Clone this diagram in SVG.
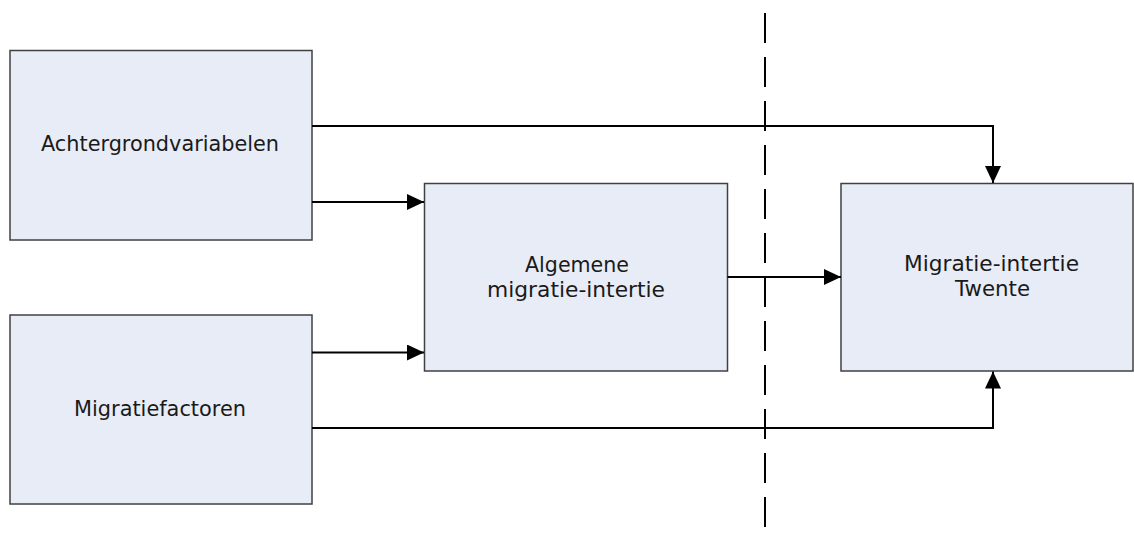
<svg xmlns="http://www.w3.org/2000/svg" width="1134" height="534" viewBox="0 0 1134 534">
<defs>
<style>
.box{fill:#E8ECF7;stroke:#404040;stroke-width:1.5}
.lbl{font-family:"DejaVu Sans","Verdana",sans-serif;font-size:21px;fill:#1a1a1a;text-anchor:middle}
.con{fill:none;stroke:#000;stroke-width:2}
.dash{fill:none;stroke:#000;stroke-width:2;stroke-dasharray:30 14}
</style>
<marker id="arr" viewBox="0 0 17 16" refX="17" refY="8" markerWidth="17" markerHeight="16" markerUnits="userSpaceOnUse" orient="auto">
<path d="M0,0 L17,8 L0,16 Z" fill="#000"/>
</marker>
</defs>
<rect width="1134" height="534" fill="#fff"/>
<g id="node-achtergrond">
<rect class="box" x="10" y="50.5" width="302" height="189.5"/>
<text class="lbl" x="160" y="151" textLength="238" lengthAdjust="spacingAndGlyphs">Achtergrondvariabelen</text>
</g>
<g id="node-migratiefactoren">
<rect class="box" x="10" y="315" width="302" height="189"/>
<text class="lbl" x="160" y="416" textLength="172" lengthAdjust="spacingAndGlyphs">Migratiefactoren</text>
</g>
<g id="node-algemene">
<rect class="box" x="424.5" y="183.5" width="303" height="187.5"/>
<text class="lbl" x="577" y="271.5" textLength="104" lengthAdjust="spacingAndGlyphs">Algemene</text>
<text class="lbl" x="576" y="296.5" textLength="178" lengthAdjust="spacingAndGlyphs">migratie-intertie</text>
</g>
<g id="node-twente">
<rect class="box" x="841" y="183.5" width="292" height="187.5"/>
<text class="lbl" x="991.5" y="271" textLength="175" lengthAdjust="spacingAndGlyphs">Migratie-intertie</text>
<text class="lbl" x="992.5" y="296" textLength="75" lengthAdjust="spacingAndGlyphs">Twente</text>
</g>
<g id="connectors">
<line class="dash" x1="765" y1="13" x2="765" y2="534"/>
<path class="con" d="M312,126 H993 V183" marker-end="url(#arr)"/>
<path class="con" d="M312,202 H424" marker-end="url(#arr)"/>
<path class="con" d="M312,352.5 H424" marker-end="url(#arr)"/>
<path class="con" d="M312,428 H993 V371.5" marker-end="url(#arr)"/>
<path class="con" d="M727.5,277 H841" marker-end="url(#arr)"/>
</g>
</svg>
